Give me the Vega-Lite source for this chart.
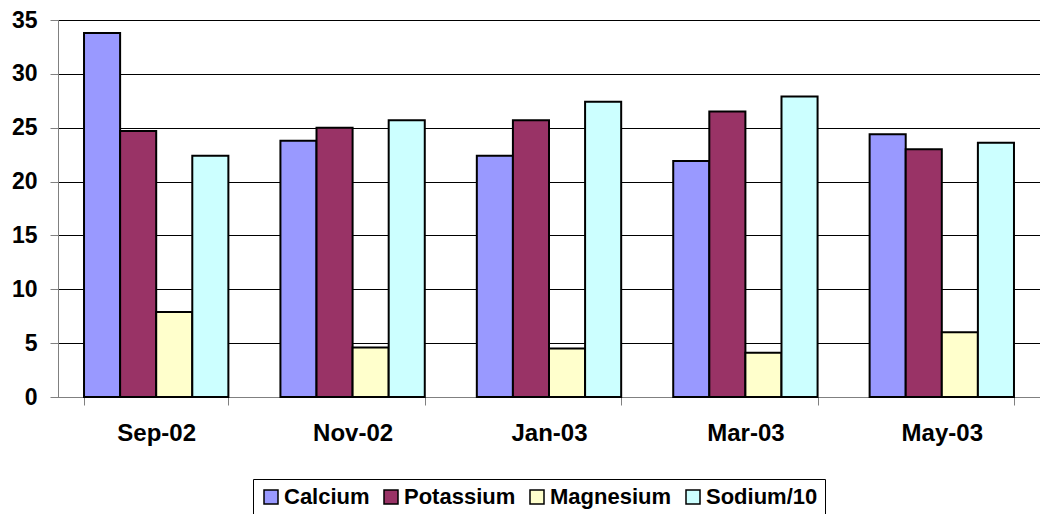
{
  "$schema": "https://vega.github.io/schema/vega-lite/v6.json",
  "width": 982,
  "height": 377,
  "autosize": {"type": "none"},
  "padding": {"left": 58, "top": 20, "right": 0, "bottom": 117},
  "background": "white",
  "config": {
    "view": {"stroke": null},
    "font": "Liberation Sans"
  },
  "data": {
    "values": [
      {"month": "Sep-02", "series": "Calcium", "value": 33.8},
      {"month": "Sep-02", "series": "Potassium", "value": 24.7},
      {"month": "Sep-02", "series": "Magnesium", "value": 7.9},
      {"month": "Sep-02", "series": "Sodium/10", "value": 22.4},
      {"month": "Nov-02", "series": "Calcium", "value": 23.8},
      {"month": "Nov-02", "series": "Potassium", "value": 25.0},
      {"month": "Nov-02", "series": "Magnesium", "value": 4.6},
      {"month": "Nov-02", "series": "Sodium/10", "value": 25.7},
      {"month": "Jan-03", "series": "Calcium", "value": 22.4},
      {"month": "Jan-03", "series": "Potassium", "value": 25.7},
      {"month": "Jan-03", "series": "Magnesium", "value": 4.5},
      {"month": "Jan-03", "series": "Sodium/10", "value": 27.4},
      {"month": "Mar-03", "series": "Calcium", "value": 21.9},
      {"month": "Mar-03", "series": "Potassium", "value": 26.5},
      {"month": "Mar-03", "series": "Magnesium", "value": 4.1},
      {"month": "Mar-03", "series": "Sodium/10", "value": 27.9},
      {"month": "May-03", "series": "Calcium", "value": 24.4},
      {"month": "May-03", "series": "Potassium", "value": 23.0},
      {"month": "May-03", "series": "Magnesium", "value": 6.0},
      {"month": "May-03", "series": "Sodium/10", "value": 23.6}
    ]
  },
  "mark": {"type": "bar", "stroke": "black", "strokeWidth": 2},
  "encoding": {
    "x": {
      "field": "month",
      "type": "nominal",
      "sort": ["Sep-02", "Nov-02", "Jan-03", "Mar-03", "May-03"],
      "scale": {"paddingInner": 0.265, "paddingOuter": 0.1325},
      "axis": {
        "title": null,
        "labelAngle": 0,
        "labelFontSize": 24,
        "labelFontWeight": "bold",
        "labelColor": "black",
        "labelPadding": 16,
        "tickSize": 8,
        "tickBand": "extent",
        "tickColor": "#808080",
        "domainColor": "#808080",
        "grid": false
      }
    },
    "xOffset": {
      "field": "series",
      "type": "nominal",
      "sort": ["Calcium", "Potassium", "Magnesium", "Sodium/10"],
      "scale": {"paddingInner": 0, "paddingOuter": 0}
    },
    "y": {
      "field": "value",
      "type": "quantitative",
      "scale": {"domain": [0, 35], "nice": false},
      "axis": {
        "title": null,
        "values": [0, 5, 10, 15, 20, 25, 30, 35],
        "labelFontSize": 23,
        "labelFontWeight": "bold",
        "labelColor": "black",
        "labelPadding": 13,
        "tickSize": 8,
        "tickColor": "#808080",
        "domainColor": "#808080",
        "grid": true,
        "gridColor": "#000000",
        "gridWidth": 1
      }
    },
    "color": {
      "field": "series",
      "type": "nominal",
      "sort": ["Calcium", "Potassium", "Magnesium", "Sodium/10"],
      "scale": {
        "domain": ["Calcium", "Potassium", "Magnesium", "Sodium/10"],
        "range": ["#9999FF", "#993366", "#FFFFCC", "#CCFFFF"]
      },
      "legend": {
        "title": null,
        "orient": "none",
        "direction": "horizontal",
        "legendX": 195,
        "legendY": 459,
        "padding": 7,
        "strokeColor": "#000000",
        "fillColor": "white",
        "symbolType": "square",
        "symbolSize": 196,
        "symbolStrokeColor": "black",
        "symbolStrokeWidth": 1.5,
        "symbolOpacity": 1,
        "labelFontSize": 22,
        "labelFontWeight": "bold",
        "labelColor": "black",
        "labelOffset": 2,
        "columnPadding": 10,
        "labelLimit": 300
      }
    }
  }
}
